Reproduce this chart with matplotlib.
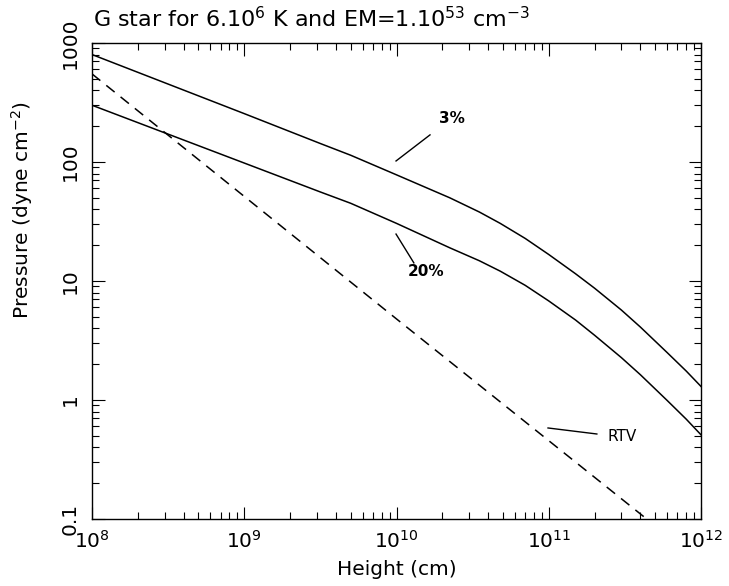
import numpy as np
import matplotlib
matplotlib.use("Agg")
import matplotlib.pyplot as plt
from matplotlib.ticker import LogLocator, NullFormatter, FixedLocator, FixedFormatter

plt.rcParams['font.family'] = ['DejaVu Sans']
plt.rcParams['mathtext.default'] = 'regular'

# curve values
height = [1e8, 1e9, 3.16e9, 5e9, 1e10, 2.24e10, 3.5e10, 4.8e10, 7e10, 1e11,
          1.5e11, 2e11, 3e11, 4e11, 6e11, 8e11, 1e12]
press_3pc = [800, 255, 143, 114, 78, 50, 38, 30.5, 22.8, 16.7,
             11.5, 8.7, 5.7, 4.1, 2.5, 1.75, 1.3]
press_20pc = [300, 98, 56, 45, 30.5, 19.0, 14.8, 12.1, 9.2, 6.8,
              4.7, 3.5, 2.27, 1.63, 0.99, 0.69, 0.51]

height_rtv = [1e8, 1e10, 4.4e11]
press_rtv = [550, 4.8, 0.1]

ytick_vals = [0.1, 1, 10, 100, 1000]
ytick_labels = ['0.1', '1', '10', '100', '1000']

fig = plt.figure(figsize=(7.29, 5.86), dpi=100)
ax = fig.add_axes([92 / 729, 1 - 519 / 586, 609 / 729, 476 / 586])

ax.plot(height, press_3pc, color='black', lw=1.1)
ax.plot(height, press_20pc, color='black', lw=1.1)
ax.plot(height_rtv, press_rtv, color='black', lw=1.1, dashes=(7, 5))

ax.set_xscale('log')
ax.set_yscale('log')
ax.set_xlim(1e8, 1e12)
ax.set_ylim(0.1, 1000)

ax.yaxis.set_major_locator(FixedLocator(ytick_vals))
ax.yaxis.set_major_formatter(FixedFormatter(ytick_labels))
ax.yaxis.set_minor_locator(LogLocator(base=10, subs=np.arange(2, 10)))
ax.yaxis.set_minor_formatter(NullFormatter())
ax.xaxis.set_minor_locator(LogLocator(base=10, subs=np.arange(2, 10)))
ax.xaxis.set_minor_formatter(NullFormatter())

ax.tick_params(which='both', direction='in', top=True, right=True, width=0.8, labelsize=14.5)
ax.tick_params(which='major', length=9)
ax.tick_params(which='minor', length=5)
ax.tick_params(axis='x', pad=8)
ax.tick_params(axis='y', pad=9)
for lab in ax.get_yticklabels():
    lab.set_rotation(90)
    lab.set_va('center')
for sp in ax.spines.values():
    sp.set_linewidth(1.0)

ax.set_xlabel('Height (cm)', fontsize=14.5, labelpad=6)
fig.text(22 / 729, 1 - 210 / 586, 'Pressure (dyne cm$^{-2}$)', rotation=90,
         ha='center', va='center', fontsize=14.5)
fig.text(93 / 729, 1 - 19 / 586, 'G star for 6.10$^6$ K and EM=1.10$^{53}$ cm$^{-3}$',
         ha='left', va='center', fontsize=16)

# curve labels with pointer lines
ax.plot([1.66e10, 9.93e9], [169, 102], color='black', lw=1.0)
ax.text(2.32e10, 234, '3%', ha='center', va='center', fontsize=11, fontweight='bold')
ax.plot([9.93e9, 1.30e10], [24.8, 14.2], color='black', lw=1.0)
ax.text(1.56e10, 12.1, '20%', ha='center', va='center', fontsize=11, fontweight='bold')
ax.plot([9.89e10, 2.07e11], [0.582, 0.518], color='black', lw=1.0)
ax.text(3.03e11, 0.489, 'RTV', ha='center', va='center', fontsize=11)

fig.savefig('out.png', dpi=100)
